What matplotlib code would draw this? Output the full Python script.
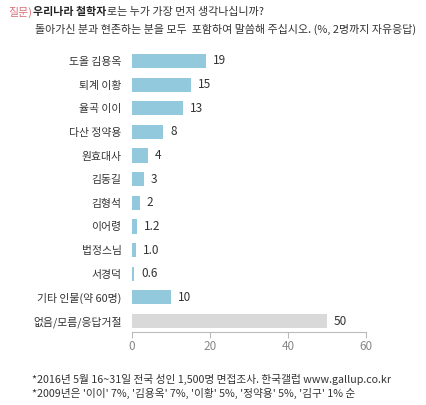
import matplotlib
matplotlib.use("Agg")
import matplotlib.pyplot as plt

plt.rcParams['font.family'] = ['Noto Sans CJK KR', 'DejaVu Sans']

categories = ["도올 김용옥", "퇴계 이황", "율곡 이이", "다산 정약용", "원효대사", "김동길",
              "김형석", "이어령", "법정스님", "서경덕", "기타 인물(약 60명)", "없음/모름/응답거절"]
values = [19, 15, 13, 8, 4, 3, 2, 1.2, 1.0, 0.6, 10, 50]
value_labels = ["19", "15", "13", "8", "4", "3", "2", "1.2", "1.0", "0.6", "10", "50"]
xticks = [0, 20, 40, 60]

blue = "#93c9dc"
gray = "#d9d9d9"
colors = [blue] * 11 + [gray]
txt = "#333333"

W, H = 426, 405
fig = plt.figure(figsize=(W / 100, H / 100), dpi=100)
ax = fig.add_axes([132 / W, (H - 332) / H, (366 - 132) / W, (332 - 50) / H])

y = list(range(len(categories)))
ax.barh(y, values, height=0.6, color=colors)
ax.set_ylim(len(categories) - 1 + 0.465, -0.465)
ax.set_xlim(0, 60)

for yi, v, lab in zip(y, values, value_labels):
    ax.annotate(lab, (v, yi), xytext=(5, 0), textcoords="offset points",
                va="center", ha="left", fontsize=8.5, color=txt)

ax.set_yticks(y)
ax.set_yticklabels(categories, fontsize=7.8, color=txt)
ax.tick_params(axis="y", length=0, pad=7.5)
ax.set_xticks(xticks)
ax.set_xticklabels([str(t) for t in xticks], fontsize=8.5, color="#888888")
ax.tick_params(axis="x", length=4, color="#bbbbbb", pad=2)
for s in ["top", "right", "left"]:
    ax.spines[s].set_visible(False)
ax.spines["bottom"].set_color("#bbbbbb")

renderer = fig.canvas.get_renderer()


def fit_size(s, width, size=8.5, **kw):
    t = fig.text(0, 0, s, fontsize=size, **kw)
    w = t.get_window_extent(renderer=renderer).width
    t.remove()
    return size * width / w


def put(x0, ypix, s, size, **kw):
    t = fig.text(x0 / W, 1 - ypix / H, s, fontsize=size, va="center", ha="left", **kw)
    return t.get_window_extent(renderer=renderer).x1


line2 = "돌아가신 분과 현존하는 분을 모두  포함하여 말씀해 주십시오. (%, 2명까지 자유응답)"
fs_title = fit_size(line2, 415 - 35)

# title
put(8, 12, "질문)", fs_title, color="#d9707a")
xe = put(33, 12, "우리나라 철학자", fs_title, color="#222222", fontweight="bold")
put(xe + 1, 12, "로는 누가 가장 먼저 생각나십니까?", fs_title, color="#333333")
put(35, 29, line2, fs_title, color="#333333")

# footnotes
foot1 = "*2016년 5월 16~31일 전국 성인 1,500명 면접조사. 한국갤럽 www.gallup.co.kr"
foot2 = "*2009년은 '이이' 7%, '김용옥' 7%, '이황' 5%, '정약용' 5%, '김구' 1% 순"
fs_foot = fit_size(foot1, 392 - 32)
put(32, 379, foot1, fs_foot, color="#333333")
put(32, 393, foot2, fs_foot, color="#333333")

fig.savefig("out.png", dpi=100)
